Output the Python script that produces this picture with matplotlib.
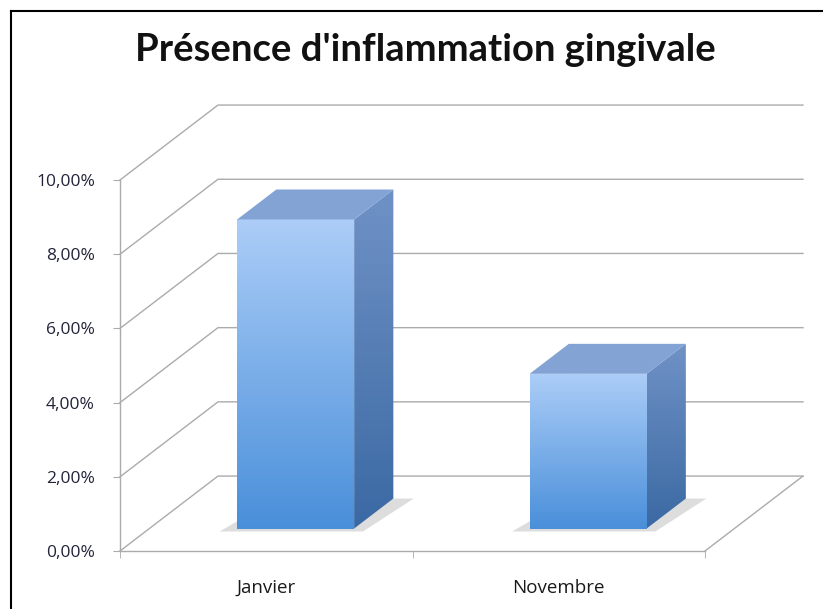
import matplotlib.pyplot as plt
import numpy as np
from matplotlib.patches import Polygon
from matplotlib.lines import Line2D
from matplotlib.ticker import FuncFormatter

# données
mois = ['Janvier', 'Novembre']
valeurs = [8.33, 4.17]          # en %
graduations = [0, 2, 4, 6, 8, 10]

plt.rcParams['font.family'] = ['Open Sans', 'DejaVu Sans']

W, H = 823, 609
fig = plt.figure(figsize=(W / 100, H / 100), dpi=100)
ax = fig.add_axes([120 / W, (H - 551) / H, 585 / W, (551 - 180) / H])
ax.set_xlim(0, 2)
ax.set_ylim(0, 10)

# profondeur de la vue 3D (en unités de données)
ddx, ddy = 0.335, 2.02
larg = 0.40      # largeur des colonnes
prof = 0.40      # profondeur des colonnes (fraction)
f = (1 - prof) / 2

gris = '#ababab'
# quadrillage (mur du fond + sol)
for v in graduations:
    ax.plot([0, ddx, 2 + ddx], [v, v + ddy, v + ddy], color=gris, lw=1,
            clip_on=False, zorder=1)
ax.plot([2, 2 + ddx], [0, ddy], color=gris, lw=1, clip_on=False, zorder=1)


def degrade(poly, haut, bas, y0, y1, x0, x1):
    # remplit un polygone avec un dégradé vertical
    c1 = np.array(plt.matplotlib.colors.to_rgb(haut))
    c2 = np.array(plt.matplotlib.colors.to_rgb(bas))
    t = np.linspace(0, 1, 100)[:, None]
    img = (c1 * (1 - t) + c2 * t)[:, None, :]
    im = ax.imshow(img, extent=[x0, x1, y0, y1], origin='upper', aspect='auto',
                   zorder=poly.get_zorder(), clip_on=True)
    im.set_clip_path(poly)


for i, v in enumerate(valeurs):
    c = i + 0.5 + f * ddx
    xl, xr = c - larg / 2, c + larg / 2
    yb, yt = f * ddy, v + f * ddy
    px, py = prof * ddx, prof * ddy

    # ombre
    omb = Polygon([(xl - 0.06, yb - 0.08), (xr + 0.03, yb - 0.08),
                   (xr + px + 0.07, yb + py), (xl + px, yb + py)],
                  closed=True, fc='#cfcfcf', ec='none', alpha=0.7,
                  clip_on=False, zorder=2)
    ax.add_patch(omb)

    face = Polygon([(xl, yb), (xr, yb), (xr, yt), (xl, yt)], closed=True,
                   fc='none', ec='none', clip_on=False, zorder=3)
    ax.add_patch(face)
    degrade(face, '#abcdf7', '#4a8fda', yb, yt, xl, xr)

    cote = Polygon([(xr, yb), (xr + px, yb + py), (xr + px, yt + py), (xr, yt)],
                   closed=True, fc='none', ec='none', clip_on=False, zorder=3)
    ax.add_patch(cote)
    degrade(cote, '#6f92c6', '#3b69a3', yb, yt + py, xr, xr + px)

    dessus = Polygon([(xl, yt), (xr, yt), (xr + px, yt + py), (xl + px, yt + py)],
                     closed=True, fc='#82a3d3', ec='none', clip_on=False, zorder=3)
    ax.add_patch(dessus)

ax.set_xlim(0, 2)
ax.set_ylim(0, 10)

# axes
for s in ['top', 'right']:
    ax.spines[s].set_visible(False)
for s in ['left', 'bottom']:
    ax.spines[s].set_color(gris)
    ax.spines[s].set_linewidth(1)

ax.set_yticks(graduations)
ax.yaxis.set_major_formatter(FuncFormatter(lambda v, p: f'{v:.2f}%'.replace('.', ',')))
ax.tick_params(axis='y', length=5, color=gris, pad=13, labelsize=12.5,
               labelcolor='#23233a')

ax.set_xticks([0.5, 1.5])
ax.set_xticklabels(mois)
ax.set_xticks([0, 1, 2], minor=True)
ax.tick_params(axis='x', which='major', length=0, pad=20, labelsize=13.5,
               labelcolor='#1a1a1a')
ax.tick_params(axis='x', which='minor', length=5, color=gris)
ax.patch.set_visible(False)

fig.text(425 / W, 1 - 50 / H, "Présence d'inflammation gingivale",
         ha='center', va='center', fontsize=27.5, fontweight='bold',
         family=['Lato', 'DejaVu Sans'], color='#111111')

# cadre
fig.add_artist(Line2D([10.5 / W, 10.5 / W], [0, 1 - 11 / H], color='black', lw=1.5))
fig.add_artist(Line2D([10.5 / W, 1], [1 - 11 / H, 1 - 11 / H], color='black', lw=1.5))

fig.savefig('out.png', dpi=100)
